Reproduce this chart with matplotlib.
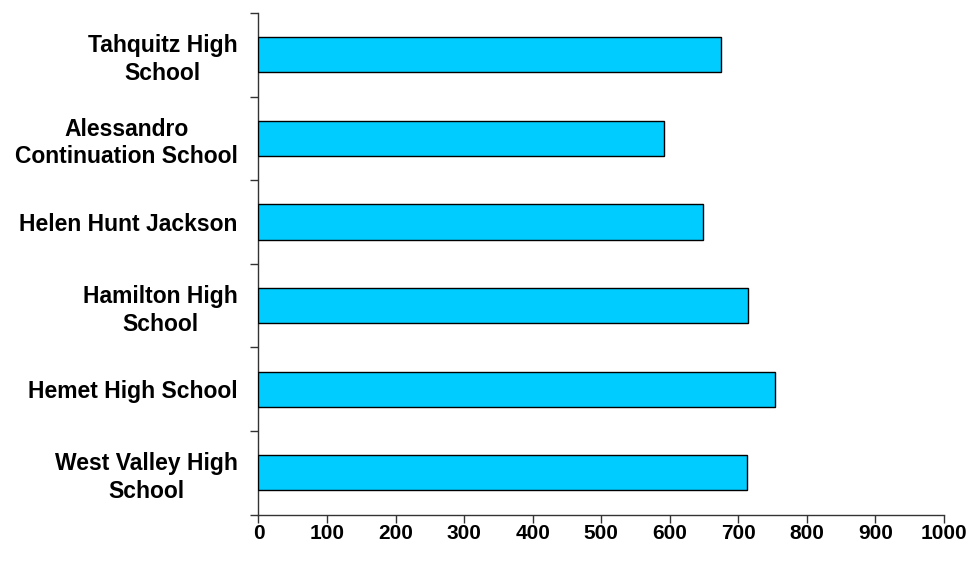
import matplotlib
matplotlib.use("Agg")
import matplotlib.pyplot as plt
import numpy as np

categories = ["West Valley High\nSchool", "Hemet High School", "Hamilton High\nSchool",
              "Helen Hunt Jackson", "Alessandro\nContinuation School", "Tahquitz High\nSchool"]
values = [712, 753, 714, 649, 591, 675]
xticks = list(range(0, 1001, 100))

plt.rcParams['font.family'] = ['Liberation Sans', 'DejaVu Sans']

fig = plt.figure(figsize=(9.71, 5.62), dpi=100)
ax = fig.add_axes([0.2662, 0.0845, 0.7060, 0.8924])

y = np.arange(len(categories))
ax.barh(y, values, height=0.42, color='#00CCFF', edgecolor='black', linewidth=1.0, zorder=3)

ax.set_xlim(0, 1000)
ax.set_ylim(-0.5, len(categories) - 0.5)

for s in ['top', 'right']:
    ax.spines[s].set_visible(False)
for s in ['left', 'bottom']:
    ax.spines[s].set_color('#333333')
    ax.spines[s].set_linewidth(1.0)

ax.set_xticks(xticks)
ax.set_xticklabels([str(t) for t in xticks], fontsize=15, fontweight='bold')
ax.tick_params(axis='x', direction='out', length=6, width=1, color='#333333', pad=0.5)

ax.set_yticks(y)
ax.set_yticklabels(categories, fontsize=16.5, fontweight='bold', multialignment='center')
ax.tick_params(axis='y', which='major', length=0, pad=15)
ax.set_yticks(np.arange(-0.5, len(categories), 1.0), minor=True)
ax.tick_params(axis='y', which='minor', direction='out', length=6, width=1, color='#333333')
for lbl in ax.get_yticklabels():
    lbl.set_linespacing(1.25)

fig.savefig("out.png", dpi=100)
